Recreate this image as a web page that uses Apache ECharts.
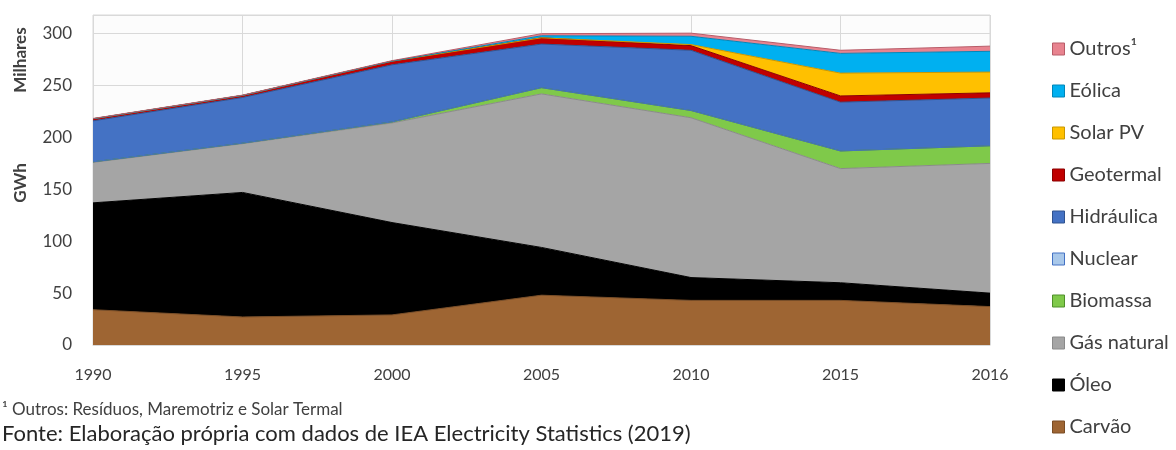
<!DOCTYPE html>
<html>
<head>
<meta charset="utf-8">
<script src="https://cdn.jsdelivr.net/npm/echarts@6/dist/echarts.min.js"></script>
<style>
  html, body { margin: 0; padding: 0; background: #ffffff; }
  #chart { width: 1176px; height: 450px; }
</style>
</head>
<body>
<div id="chart"></div>
<script>
// Electricity generation by source, thousands of GWh
const years = ['1990', '1995', '2000', '2005', '2010', '2015', '2016'];
const carvao     = [34, 27, 29, 48, 43, 43, 37];
const oleo       = [103, 120, 89, 46, 22, 17, 13];
const gasNatural = [39, 47, 96, 148, 154, 110, 125];
const biomassa   = [0.5, 0.5, 1, 6, 7, 17, 17];
const nuclear    = [0, 0, 0, 0, 0, 0, 0];
const hidraulica = [39.5, 44, 55, 42, 58, 47, 46];
const geotermal  = [2, 2, 3.5, 6, 4.5, 6, 5];
const solarPV    = [0, 0, 0, 0, 1, 22, 20];
const eolica     = [0, 0, 0, 2, 8, 19, 20];
const outros     = [0.3, 0.3, 0.5, 2, 3, 3, 5];
const yTicks = [0, 50, 100, 150, 200, 250, 300];

const FONT = 'Lato, "Open Sans", sans-serif';

// stack order, bottom to top: [name, values, fill, outline]
const layers = [
  ['Carvão',      carvao,     '#9E6533', '#7a4c24'],
  ['Óleo',        oleo,       '#000000', '#000000'],
  ['Gás natural', gasNatural, '#A5A5A5', '#8a8a8a'],
  ['Biomassa',    biomassa,   '#7FC94A', '#4f8f2a'],
  ['Nuclear',     nuclear,    '#A9C8EA', '#4472C4'],
  ['Hidráulica',  hidraulica, '#4472C4', '#2f528f'],
  ['Geotermal',   geotermal,  '#C00000', '#8b0000'],
  ['Solar PV',    solarPV,    '#FFC000', '#c99700'],
  ['Eólica',      eolica,     '#00B0F0', '#0086b8'],
  ['Outros¹',     outros,     '#E8838F', '#b85c68']
];

const series = layers.map(([name, values, fill, edge]) => ({
  name: name,
  type: 'line',
  stack: 'total',
  data: values,
  symbol: 'none',
  smooth: false,
  lineStyle: { width: 1, color: edge },
  itemStyle: { color: fill },
  areaStyle: { color: fill, opacity: 1 },
  emphasis: { disabled: true }
}));

const legendItems = layers.slice().reverse().map(([name, , fill, edge]) => ({
  name: name,
  icon: 'rect',
  itemStyle: { color: fill, borderColor: edge, borderWidth: 1 }
}));

const chart = echarts.init(document.getElementById('chart'), null, { renderer: 'canvas' });
chart.setOption({
  animation: false,
  backgroundColor: '#ffffff',
  grid: { left: 93, right: 186, top: 15, bottom: 105, containLabel: false,
          show: true, borderColor: '#d9d9d9', borderWidth: 1, backgroundColor: '#fcfcfc' },
  xAxis: {
    type: 'category',
    data: years,
    boundaryGap: false,
    axisLine: { show: true, lineStyle: { color: '#d9d9d9' } },
    axisTick: { show: false },
    axisLabel: { color: '#404040', fontFamily: FONT, fontSize: 16, margin: 22 },
    splitLine: { show: true, lineStyle: { color: '#d9d9d9', width: 1 } }
  },
  yAxis: {
    type: 'value',
    min: yTicks[0],
    max: 318,
    interval: yTicks[1] - yTicks[0],
    axisLine: { show: false },
    axisTick: { show: false },
    axisLabel: {
      color: '#404040', fontFamily: FONT, fontSize: 17, margin: 21,
      showMaxLabel: false,
      formatter: v => (yTicks.includes(v) ? String(v) : '')
    },
    splitLine: { show: true, lineStyle: { color: '#d9d9d9', width: 1 } }
  },
  legend: {
    orient: 'vertical',
    left: 1047,
    top: 33,
    itemWidth: 12,
    itemHeight: 12,
    itemGap: 20,
    selectedMode: false,
    textStyle: { color: '#404040', fontFamily: FONT, fontSize: 20, lineHeight: 22 },
    data: legendItems
  },
  graphic: [
    { type: 'text', x: 21, y: 60, rotation: Math.PI / 2,
      style: { text: 'Milhares', font: 'bold 17px ' + FONT, fill: '#404040',
               align: 'center', verticalAlign: 'middle' } },
    { type: 'text', x: 21, y: 183, rotation: Math.PI / 2,
      style: { text: 'GWh', font: 'bold 17px ' + FONT, fill: '#404040',
               align: 'center', verticalAlign: 'middle' } },
    { type: 'text', x: 2, y: 410,
      style: { text: '¹ Outros: Resíduos, Maremotriz e Solar Termal', font: '17px ' + FONT,
               fill: '#404040', align: 'left', verticalAlign: 'middle' } },
    { type: 'text', x: 2, y: 434,
      style: { text: 'Fonte: Elaboração própria com dados de IEA Electricity Statistics (2019)',
               font: '22px ' + FONT, fill: '#262626', align: 'left', verticalAlign: 'middle' } }
  ],
  series: series
});
</script>
</body>
</html>
